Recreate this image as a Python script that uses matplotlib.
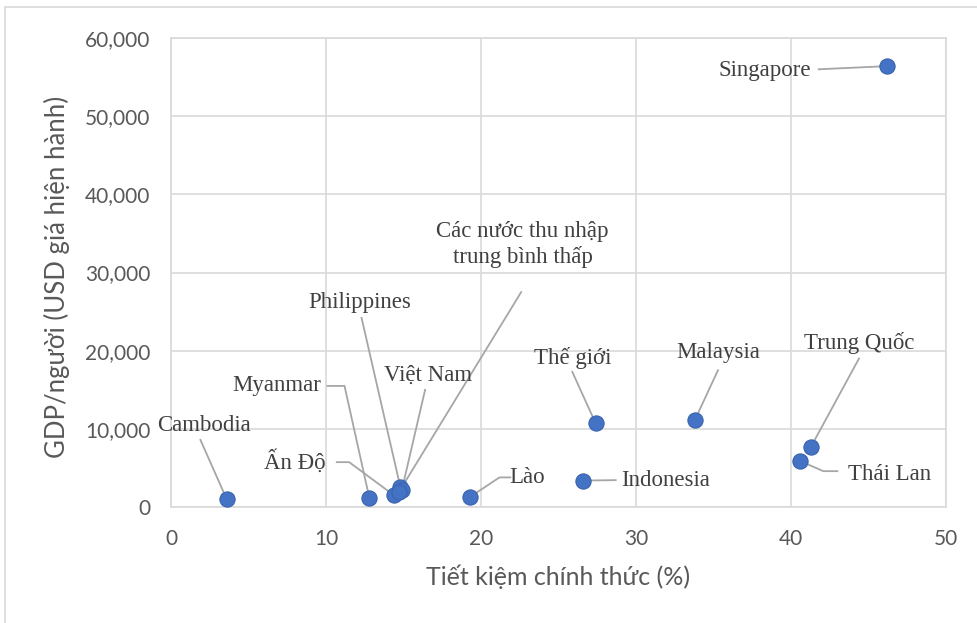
import matplotlib.pyplot as plt
import matplotlib.patches as mpatches
from matplotlib.ticker import FuncFormatter

# data
countries = ['Singapore', 'Cambodia', 'Myanmar', 'Ấn Độ', 'Philippines', 'Việt Nam',
             'Các nước thu nhập\ntrung bình thấp', 'Lào', 'Indonesia', 'Thế giới',
             'Malaysia', 'Trung Quốc', 'Thái Lan']
saving = [46.2, 3.6, 12.8, 14.4, 14.8, 14.9, 14.7, 19.3, 26.6, 27.4, 33.8, 41.3, 40.6]
gdp = [56400, 1000, 1200, 1500, 2600, 2200, 1900, 1300, 3400, 10750, 11100, 7700, 5900]

# label placement (x, y in data units) and leader lines
label_pos = [(38.3, 55800), (2.1, 10500), (6.8, 15500), (8.0, 5750), (12.2, 26200),
             (16.6, 16900), (22.7, 33600), (23.0, 3800), (31.9, 3450), (25.9, 19100),
             (35.3, 19800), (44.4, 21000), (46.4, 4200)]
leader_from = [(41.8, 56000), (1.9, 8600), (10.1, 15500), (10.7, 5750), (12.3, 24200),
               (16.4, 15000), (22.6, 27500), (21.9, 3800), (28.7, 3450), (25.9, 17300),
               (35.3, 17500), (44.4, 19000), (43.0, 4600)]
stub = [0, 0, 1.1, 0.8, 0, 0, 0, -0.7, 0, 0, 0, 0, -0.9]

x_ticks = [0, 10, 20, 30, 40, 50]
y_ticks = [0, 10000, 20000, 30000, 40000, 50000, 60000]

grid_c = '#d9d9d9'
text_c = '#595959'
label_c = '#404040'
dot_c = '#4472c4'
leader_c = '#a6a6a6'

fig = plt.figure(figsize=(9.77, 6.23), dpi=100)
ax = fig.add_axes([0.175, 0.186, 0.793, 0.753])

# outer chart border
fig.patches.append(mpatches.Rectangle((5 / 977, -0.1), 1.2, 1.1 - 7 / 623,
                                      transform=fig.transFigure, fill=False,
                                      edgecolor=grid_c, linewidth=1.2))

ax.scatter(saving, gdp, s=120, color=dot_c, edgecolors='#3a64ad', linewidths=0.8, zorder=3)

for i, name in enumerate(countries):
    lx, ly = label_pos[i]
    ax.text(lx, ly, name, ha='center', va='center', fontsize=16.5,
            family='Liberation Serif', color=label_c, linespacing=1.2, zorder=4)
    fx, fy = leader_from[i]
    if stub[i]:
        # short horizontal stub, then straight to the point
        ax.plot([fx, fx + stub[i], saving[i]], [fy, fy, gdp[i]], color=leader_c, lw=1.3, zorder=2)
    else:
        ax.plot([fx, saving[i]], [fy, gdp[i]], color=leader_c, lw=1.3, zorder=2)

ax.set_xlim(0, 50)
ax.set_ylim(0, 60000)
ax.set_xticks(x_ticks)
ax.set_yticks(y_ticks)
ax.yaxis.set_major_formatter(FuncFormatter(lambda v, p: f'{int(v):,}'))
ax.grid(True, color=grid_c, linewidth=1.2)
ax.set_axisbelow(True)
for sp in ax.spines.values():
    sp.set_color(grid_c)
    sp.set_linewidth(1.2)
ax.tick_params(length=0, labelsize=15, labelcolor=text_c)
ax.tick_params(axis='x', pad=16)
ax.tick_params(axis='y', pad=15)
for t in ax.get_xticklabels() + ax.get_yticklabels():
    t.set_family('Lato')

ax.set_xlabel('Tiết kiệm chính thức (%)', fontsize=18, color=text_c, family='Lato')
ax.set_ylabel('GDP/người (USD giá hiện hành)', fontsize=18.5, color=text_c, family='Lato')
ax.xaxis.set_label_coords(0.5, -0.122)
ax.yaxis.set_label_coords(-0.13, 0.49)

fig.savefig('out.png', dpi=100)
